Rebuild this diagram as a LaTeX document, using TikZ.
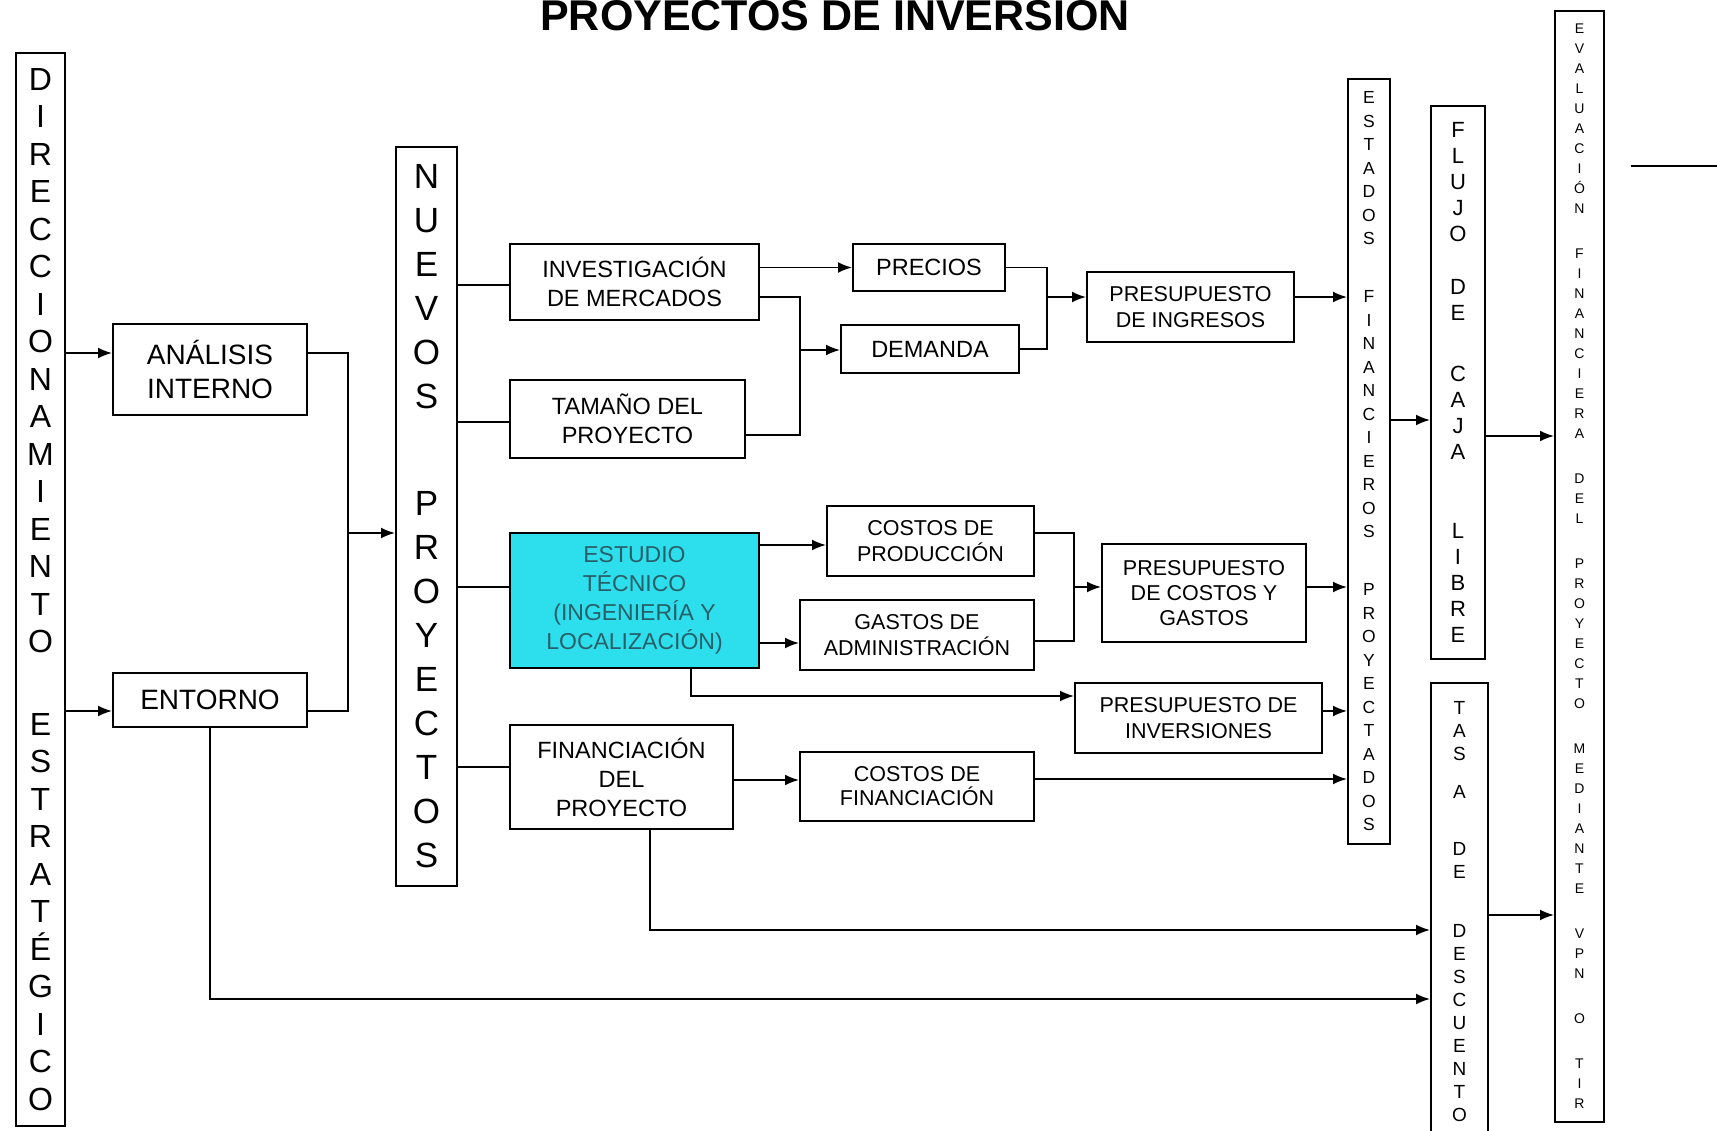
\documentclass[tikz,border=0pt]{standalone}
\usepackage{fontspec}
\setmainfont{Liberation Sans}
\usepackage{tikz}
\usetikzlibrary{arrows.meta,positioning}
\definecolor{cian}{RGB}{45,222,236}
\definecolor{cianosc}{RGB}{40,95,105}
\newcommand{\fs}[2]{\fontsize{#1}{#2}\selectfont}
\tikzstyle{bloque} = [draw, line width=2pt, inner sep=0pt, align=center, font={\fs{21.5}{26}}]
\tikzstyle{columna} = [draw, line width=2pt, inner sep=0pt, align=center]
\tikzstyle{linea} = [line width=1.8pt]
\tikzstyle{arrow} = [line width=1.8pt,-{Latex[length=14pt,width=11pt]}]
\tikzset{medida/.style 2 args={minimum width=#1pt, minimum height=#2pt}}

\begin{document}
\begin{tikzpicture}[x=1pt,y=-1pt]
\useasboundingbox (0,0) rectangle (1717,1131);

% Title
\node[anchor=base, font={\fs{43}{50}\bfseries}] (titulo) at (835,31) {PROYECTOS DE INVERSIÓN};

% Vertical columns
\node[columna, medida={49}{1073}, font={\fs{32}{37.5}}] (dir) at (40.5,589.5)
  {D\\I\\R\\E\\C\\C\\I\\O\\N\\A\\M\\I\\E\\N\\T\\O\\[45pt]E\\S\\T\\R\\A\\T\\É\\G\\I\\C\\O};
\node[columna, medida={61}{739}, font={\fs{35}{44}}] (nue) at (426.5,516.5)
  {N\\U\\E\\V\\O\\S\\[63pt]P\\R\\O\\Y\\E\\C\\T\\O\\S};
\node[columna, medida={42}{765}, font={\fs{17.5}{23.5}}] (efp) at (1369,461.5)
  {E\\S\\T\\A\\D\\O\\S\\[34.5pt]F\\I\\N\\A\\N\\C\\I\\E\\R\\O\\S\\[34.5pt]P\\R\\O\\Y\\E\\C\\T\\A\\D\\O\\S};
\node[columna, medida={54}{553}, font={\fs{22}{26}}] (flu) at (1458,382.5)
  {F\\L\\U\\J\\O\\[27pt]D\\E\\[35pt]C\\A\\J\\A\\[53pt]L\\I\\B\\R\\E};
\node[columna, medida={57}{457}, font={\fs{19}{23}}] (tas) at (1459.5,911.5)
  {T\\A\\S\\[15pt]A\\[34pt]D\\E\\[36pt]D\\E\\S\\C\\U\\E\\N\\T\\O};
\node[columna, medida={49}{1111}, font={\fs{14}{20}}] (eva) at (1579.5,566.5)
  {E\\V\\A\\L\\U\\A\\C\\I\\Ó\\N\\[25pt]F\\I\\N\\A\\N\\C\\I\\E\\R\\A\\[25pt]D\\E\\L\\[25pt]P\\R\\O\\Y\\E\\C\\T\\O\\[25pt]M\\E\\D\\I\\A\\N\\T\\E\\[25pt]V\\P\\N\\[25pt]O\\[25pt]T\\I\\R};

% Boxes
\node[bloque, medida={194}{91}, font={\fs{28}{34}}] (ana) at (210,369.5) {ANÁLISIS\\INTERNO};
\node[bloque, medida={194}{54}, font={\fs{28}{34}}] (ent) at (210,700) {ENTORNO};
\node[bloque, medida={249}{76}, font={\fs{23.5}{29}}] (inv) at (634.5,282) {INVESTIGACIÓN\\DE MERCADOS};
\node[bloque, medida={235}{78}, font={\fs{23.5}{29}}] (tam) at (627.5,419) {TAMAÑO DEL\\PROYECTO};
\node[bloque, medida={249}{135}, font={\fs{23}{29}}, fill=cian, text=cianosc] (est) at (634.5,600.5)
  {ESTUDIO\\TÉCNICO\\(INGENIERÍA Y\\LOCALIZACIÓN)};
\node[bloque, medida={223}{104}, font={\fs{23.5}{29}}] (fin) at (621.5,777) {FINANCIACIÓN\\DEL\\PROYECTO};
\node[bloque, medida={152}{47}, font={\fs{23.5}{29}}] (pre) at (929,267.5) {PRECIOS};
\node[bloque, medida={178}{48}, font={\fs{23.5}{29}}] (dem) at (930,349) {DEMANDA};
\node[bloque, medida={207}{70}] (ping) at (1190.5,307) {PRESUPUESTO\\DE INGRESOS};
\node[bloque, medida={207}{70}] (cpro) at (930.5,541) {COSTOS DE\\PRODUCCIÓN};
\node[bloque, medida={234}{70}] (gadm) at (917,635) {GASTOS DE\\ADMINISTRACIÓN};
\node[bloque, medida={204}{98}, font={\fs{21.5}{25}}] (pcg) at (1204,593) {PRESUPUESTO\\DE COSTOS Y\\GASTOS};
\node[bloque, medida={247}{70}] (pinv) at (1198.5,718) {PRESUPUESTO DE\\INVERSIONES};
\node[bloque, medida={234}{69}, font={\fs{21.5}{24}}] (cfin) at (917,786.5) {COSTOS DE\\FINANCIACIÓN};

% Connection points
\coordinate (a1) at ([yshift=16.5pt]ana.west);
\coordinate (a2) at ([yshift=16.5pt]ana.east);
\coordinate (e1) at ([yshift=-11pt]ent.west);
\coordinate (e2) at ([yshift=-11pt]ent.east);
\coordinate (jL) at (348,533);
\coordinate (i1) at ([yshift=-3pt]inv.west);
\coordinate (i2) at ([yshift=-15pt]inv.east);
\coordinate (t1) at ([yshift=-3pt]tam.west);
\coordinate (t2) at ([yshift=-16pt]tam.east);
\coordinate (s1) at ([yshift=13.5pt]est.west);
\coordinate (s2) at ([xshift=56.5pt]est.south);
\coordinate (f1) at ([yshift=10pt]fin.west);
\coordinate (jM) at (800,350);
\coordinate (jR) at (1047,297);
\coordinate (c1) at ([yshift=-4pt]cpro.west);
\coordinate (c2) at ([yshift=8pt]cpro.east);
\coordinate (g1) at ([yshift=-8pt]gadm.west);
\coordinate (g2) at ([yshift=-6pt]gadm.east);
\coordinate (jC) at (1074,587);
\coordinate (p1) at ([yshift=22pt]pinv.west);
\coordinate (p2) at ([yshift=7pt]pinv.east);
\coordinate (k1) at ([yshift=6.5pt]cfin.west);
\coordinate (k2) at ([yshift=7.5pt]cfin.east);
\coordinate (ff) at ([yshift=-37.5pt]flu.west);
\coordinate (fe) at ([yshift=-53.5pt]flu.east);
\coordinate (te) at ([yshift=-3.5pt]tas.east);
\coordinate (tf) at ([yshift=-18.5pt]tas.west);
\coordinate (tn) at ([yshift=-87.5pt]tas.west);
\coordinate (r1) at (1631,166);
\coordinate (r2) at (1717,166);

% Left side
\draw[arrow] (dir.east |- a1) -- (a1);
\draw[arrow] (dir.east |- e1) -- (e1);
\draw[linea] (a2) -| (jL);
\draw[linea] (e2) -| (jL);
\draw[arrow] (jL) -- (nue.west |- jL);

% From NUEVOS PROYECTOS
\draw[linea] (nue.east |- i1) -- (i1);
\draw[linea] (nue.east |- t1) -- (t1);
\draw[linea] (nue.east |- s1) -- (s1);
\draw[linea] (nue.east |- f1) -- (f1);

% Market study
\draw[arrow] (inv.east |- pre.west) -- (pre.west);
\draw[linea] (i2) -| (jM);
\draw[linea] (t2) -| (jM);
\draw[arrow] (jM) -- (dem.west |- jM);
\draw[linea] (pre.east) -| (jR);
\draw[linea] (dem.east) -| (jR);
\draw[arrow] (jR) -- (ping.west |- jR);
\draw[arrow] (ping.east |- jR) -- (efp.west |- jR);

% Technical study
\draw[arrow] (est.east |- c1) -- (c1);
\draw[arrow] (est.east |- g1) -- (g1);
\draw[linea] (c2) -| (jC);
\draw[linea] (g2) -| (jC);
\draw[arrow] (jC) -- (pcg.west |- jC);
\draw[arrow] (pcg.east |- jC) -- (efp.west |- jC);
\draw[arrow] (s2) |- (p1);
\draw[arrow] (p2) -- (efp.west |- p2);

% Financing
\draw[arrow] (fin.east |- k1) -- (k1);
\draw[arrow] (k2) -- (efp.west |- k2);
\draw[arrow] ([xshift=28.5pt]fin.south) |- (tf);
\draw[arrow] (ent.south) |- (tn);

% Right side
\draw[arrow] (efp.east |- ff) -- (ff);
\draw[arrow] (fe) -- (eva.west |- fe);
\draw[arrow] (te) -- (eva.west |- te);
\draw[line width=2pt] (r1) -- (r2);
\end{tikzpicture}
\end{document}
